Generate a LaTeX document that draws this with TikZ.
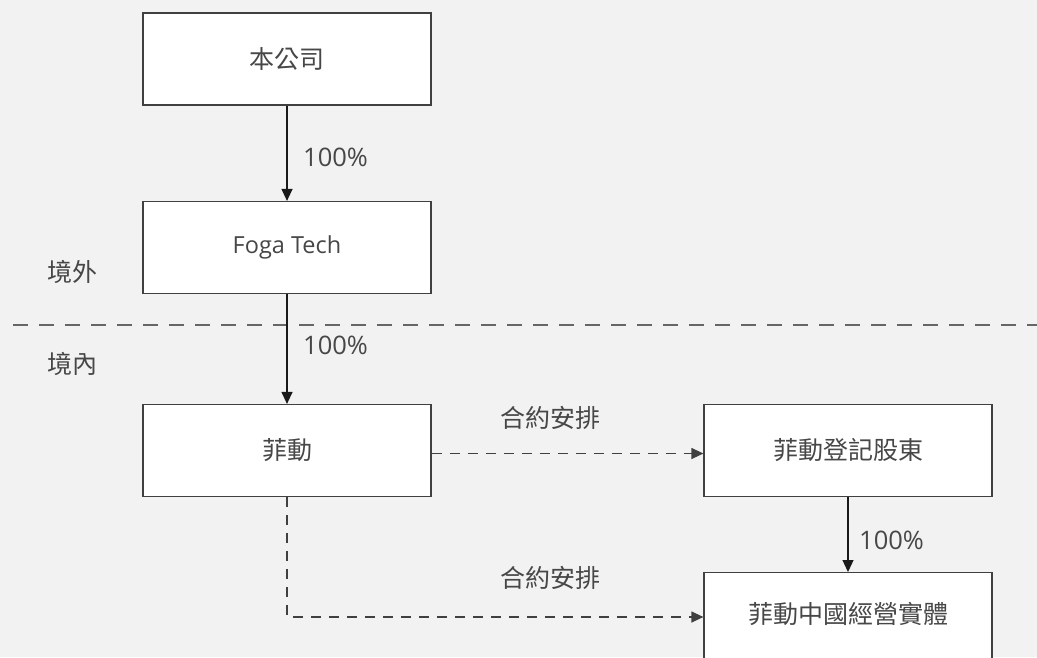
\documentclass[tikz,border=0pt]{standalone}
\usepackage{fontspec}
\setmainfont{Noto Sans CJK TC}
\newfontfamily\latinfont{Open Sans}
\usetikzlibrary{arrows.meta}
\definecolor{bg}{HTML}{F2F2F2}
\definecolor{txt}{HTML}{474747}
\definecolor{edge}{HTML}{404040}
\begin{document}
\begin{tikzpicture}[x=1pt,y=-1pt,
  entity/.style={draw=edge,line width=1.2pt,fill=white,minimum width=288pt,minimum height=92pt,inner sep=0pt,text=txt,font=\fontsize{25}{30}\selectfont},
  lbl/.style={text=txt,font=\fontsize{25}{30}\selectfont,inner sep=0pt},
  num/.style={text=txt,font=\latinfont\fontsize{25.5}{30}\selectfont,inner sep=0pt},
  solidarrow/.style={draw=black!90,line width=1.2pt,-{Triangle[length=12pt,width=11pt]}},
  dasharrow/.style={draw=edge,line width=1.2pt,dash pattern=on 10pt off 8pt,-{Triangle[length=12pt,width=11pt]}},
  border/.style={draw=edge!80,line width=1.2pt,dash pattern=on 15pt off 11pt}]
\fill[bg] (0,0) rectangle (1037,657);
\useasboundingbox (0,0) rectangle (1037,657);
\node[entity] (co) at (287,59) {本公司};
\node[entity,font=\latinfont\fontsize{23.5}{28}\selectfont] (foga) at (287,247.5) {Foga Tech};
\node[entity] (fd) at (287,450.5) {菲動};
\node[entity] (reg) at (848,450.5) {菲動登記股東};
\node[entity,anchor=north] (op) at (848,572) {};
\node[lbl] (optext) at (848,614) {菲動中國經營實體};
\coordinate (bl) at (13,325);
\coordinate (br) at (1037,325);
\draw[border] (bl) -- (br);
\node[lbl] (out) at (72,272) {境外};
\node[lbl] (in) at (72,364) {境內};
\draw[solidarrow] (co) -- (foga);
\node[num,anchor=west] (p1) at (303,157) {100\%};
\draw[solidarrow] (foga.south) -- (fd.north);
\node[num,anchor=west] (p2) at (303,345) {100\%};
\draw[solidarrow] (reg) -- (op.north);
\node[num,anchor=west] (p3) at (859,540) {100\%};
\draw[dasharrow] (fd.east) ++(0,3) coordinate (fde) -- (fde -| reg.west);
\node[lbl] (c1) at (550,418) {合約安排};
\coordinate (corner) at (287,617);
\draw[dasharrow] (fd.south) -- (corner) -- (corner -| op.west);
\node[lbl] (c2) at (550,578) {合約安排};
\end{tikzpicture}
\end{document}
